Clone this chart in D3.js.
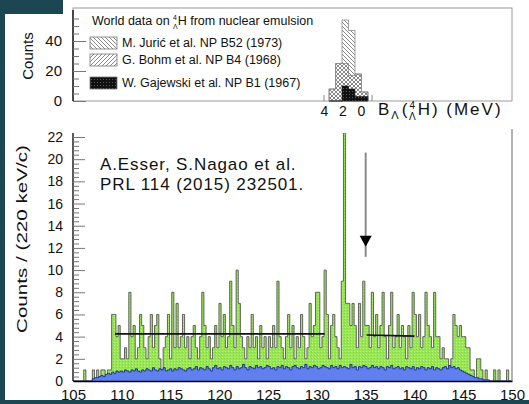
<!DOCTYPE html>
<html><head><meta charset="utf-8">
<script src="https://cdn.jsdelivr.net/npm/d3@7"></script>
<style>
html,body{margin:0;padding:0;background:#1b4652;}
svg{display:block;}
text{font-family:"Liberation Sans",Arial,sans-serif;}
</style></head><body>
<svg id="c" width="529" height="404"></svg>
<script>
// ---------------- DATA ----------------
const binStart = 105, binWidth = 0.22;
const greenCounts = [0,0,0,0,0,1,0,0,0,1, 0,1,0,1,1,0,1,1,6,6, 4,5,2,2,3,2,8,4,5,2,
 3,6,5,3,2,4,6,3,5,6, 2,1,3,4,6,2,8,3,7,3, 4,6,3,4,2,4,5,3,2,4, 8,5,3,4,2,3,5,3,7,4,
 6,3,4,9,5,3,10,7,4,3, 2,4,3,6,3,4,2,5,3,4, 2,4,3,5,3,9,4,3,2,4, 6,3,5,2,4,3,6,4,2,3,
 7,4,5,8,8,3,4,10,6,2, 5,6,4,3,2,9,23,7,7,5, 7,5,3,7,4,9,5,5,3,8, 4,6,3,5,8,4,2,5,8,3,
 4,6,3,5,4,2,5,3,8,6, 4,6,3,4,8,5,4,3,8,4, 4,2,3,2,2,1,2,6,5,4, 5,4,4,3,3,1,1,0,2,2,
 1,0,1,0,0,0,1,0,1,0, 0,0,1,0,0];
const blueCounts = [0,0,0,0,0,0,0,0,0,0.2, 0.3,0.3,0.4,0.5,0.4,0.6,0.7,0.6,0.8,0.7,
 0.9,0.8,0.9,0.8,1.0,0.9,0.8,1.0,0.9,1.1, 0.9,0.8,1.0,0.9,1.1,1.0,0.9,1.2,1.0,0.9,
 1.1,1.0,1.2,0.9,1.0,1.1,0.9,1.1,1.0,1.2, 1.1,1.0,0.9,1.1,1.2,1.0,1.1,1.3,1.0,1.2,
 1.1,1.0,1.3,1.1,0.9,1.2,1.4,1.1,1.2,1.0, 1.3,1.2,1.1,1.4,1.2,1.0,1.3,1.1,1.2,1.5,
 1.2,1.0,1.3,1.2,1.1,1.4,1.2,1.3,1.1,1.2, 1.4,1.3,1.1,1.2,1.0,1.3,1.2,1.4,1.1,1.3,
 1.2,1.0,1.3,1.4,1.2,1.1,1.3,1.2,1.5,1.1, 1.3,1.2,1.4,1.3,1.1,1.2,1.4,1.3,1.2,1.1,
 1.4,1.2,1.3,1.1,1.4,1.2,1.3,1.2,1.1,1.5, 1.2,1.3,1.0,1.3,1.2,1.4,1.3,1.1,1.2,1.4,
 1.2,1.3,1.1,1.3,1.2,1.0,1.3,1.2,1.4,1.1, 1.2,1.3,1.1,1.2,1.0,1.3,1.2,1.1,1.3,1.0,
 1.2,1.1,1.3,1.2,1.0,1.2,1.1,1.3,1.0,1.2, 1.1,1.0,1.2,1.3,1.1,1.4,1.2,1.3,1.1,1.2,
 1.0,0.9,0.8,0.7,0.6,0.5,0.4,0.3,0.3,0.2, 0.2,0.1,0.1,0.1,0,0,0,0,0,0, 0,0,0,0,0];
const xTickValues = [105,110,115,120,125,130,135,140,145,150];
const yTickValues = [0,2,4,6,8,10,12,14,16,18,20,22];
const fitA_x = [109.3, 130.8], fitA_y = [4.25, 4.25];
const fitB_x = [135.1, 140.0], fitB_y = [4.15, 4.05];
const arrowAt = 135, arrowFrom = 20.6, arrowTo = 12.1;
const yLabel = "Counts / (220 keV/c)";
const noteLines = ["A.Esser, S.Nagao et al.", "PRL 114 (2015) 232501."];

// inset (world emulsion data)
const insetEdges = [3.45, 2.75, 2.05, 1.35, 0.65, -0.05, -0.75];
const juricCounts = [8, 25, 54, 47, 18, 6];
const bohmCounts  = [8, 25, 25, 17, 18, 6];
const gajewskiCounts = [0, 0, 10, 8, 3, 3];
const insetYTicks = [0, 20, 40];
const insetXTicks = [4, 2, 0];
const legendNames = ["M. Jurić et al. NP B52 (1973)", "G. Bohm et al. NP B4 (1968)", "W. Gajewski et al. NP B1 (1967)"];

// ---------------- DRAW ----------------
const svg = d3.select("#c");
const defs = svg.append("defs");
function pat(id, w, h, bg, draw){
  const p = defs.append("pattern").attr("id", id).attr("patternUnits","userSpaceOnUse").attr("width", w).attr("height", h);
  if (bg) p.append("rect").attr("width", w).attr("height", h).attr("fill", bg);
  draw(p);
}
pat("hBack", 4, 4, null, p => p.append("path").attr("d","M-1,-1L5,5M-1,3L1,5M3,-1L5,1").attr("stroke","#6a6a6a").attr("stroke-width",0.8));
pat("hFwd", 4, 4, null, p => p.append("path").attr("d","M-1,5L5,-1M-1,1L1,-1M3,5L5,3").attr("stroke","#6a6a6a").attr("stroke-width",0.8));
pat("hBlack", 3, 3, "#111", p => p.append("rect").attr("x",1).attr("y",1).attr("width",1).attr("height",1).attr("fill","#555"));
pat("gFill", 3, 3, "#98e654", p => { p.append("rect").attr("x",0).attr("y",0).attr("width",1).attr("height",1).attr("fill","#bcf284");
  p.append("rect").attr("x",2).attr("y",1).attr("width",1).attr("height",1).attr("fill","#84d444"); });

// page background / white panel
svg.append("rect").attr("width",529).attr("height",404).attr("fill","#1b4652");
svg.append("rect").attr("x",5).attr("y",14).attr("width",524).attr("height",386).attr("fill","#fff");
svg.append("rect").attr("x",63).attr("y",0).attr("width",466).attr("height",14).attr("fill","#fff");

// ---- main plot ----
const x = d3.scaleLinear().domain([105,150]).range([73,512]);
const y = d3.scaleLinear().domain([0,22]).range([381,137]);
const yTop = 133;

defs.append("clipPath").attr("id","mainClip").append("rect")
  .attr("x",73).attr("y",yTop).attr("width",512-73).attr("height",381-yTop);

function binData(vals){
  const d = vals.map((v,i)=>({x: binStart + i*binWidth, v}));
  d.push({x: binStart + vals.length*binWidth, v: vals[vals.length-1]});
  return d;
}
const gArea = d3.area().x(d=>x(d.x)).y0(y(0)).y1(d=>y(d.v)).curve(d3.curveStepAfter);
const gLine = d3.line().x(d=>x(d.x)).y(d=>y(d.v)).curve(d3.curveStepAfter);
const plot = svg.append("g").attr("clip-path","url(#mainClip)");
const gd = binData(greenCounts), bd = binData(blueCounts);
plot.append("path").attr("d", gArea(gd)).attr("fill","url(#gFill)");
plot.append("path").attr("d", gLine(gd)).attr("fill","none").attr("stroke","#555").attr("stroke-width",0.9);
plot.append("path").attr("d", gArea(bd)).attr("fill","#5f80ee");
plot.append("path").attr("d", gLine(bd)).attr("fill","none").attr("stroke","#1b2a8c").attr("stroke-width",0.9);

// fit lines
const fl = d3.line().x(d=>x(d[0])).y(d=>y(d[1]));
svg.append("path").attr("d", fl(d3.zip(fitA_x, fitA_y))).attr("stroke","#111").attr("stroke-width",1.6).attr("fill","none");
svg.append("path").attr("d", fl(d3.zip(fitB_x, fitB_y))).attr("stroke","#111").attr("stroke-width",1.6).attr("fill","none");

// arrow
svg.append("line").attr("x1",x(arrowAt)).attr("x2",x(arrowAt)).attr("y1",y(arrowFrom)).attr("y2",y(arrowTo)+10)
  .attr("stroke","#8a8a8a").attr("stroke-width",2);
svg.append("path").attr("d",`M${x(arrowAt)-6},${y(arrowTo)-11}L${x(arrowAt)+6},${y(arrowTo)-11}L${x(arrowAt)},${y(arrowTo)}Z`).attr("fill","#000");

// frame
svg.append("line").attr("x1",512).attr("x2",512).attr("y1",129).attr("y2",381).attr("stroke","#9a9a9a").attr("stroke-width",1.5);

// axes
const yAx = svg.append("g").attr("transform","translate(73,0)")
  .call(d3.axisLeft(y).tickValues(yTickValues).tickSize(-12).tickPadding(10).tickFormat(d3.format("d")));
const minorY = d3.range(0, 22.4, 0.4).filter(v => Math.abs(v/2 - Math.round(v/2)) > 0.01);
svg.append("g").attr("transform","translate(73,0)")
  .call(d3.axisLeft(y).tickValues(minorY).tickSize(-6).tickFormat(""))
  .call(g=>g.select(".domain").remove());
yAx.select(".domain").attr("d", `M0,${yTop}V381`).attr("stroke","#000").attr("stroke-width",1.3);
yAx.selectAll("text").attr("font-size",14).attr("fill","#111");

const xAx = svg.append("g").attr("transform","translate(0,381)")
  .call(d3.axisBottom(x).tickValues(xTickValues).tickSize(0).tickPadding(8).tickFormat(d3.format("d")));
xAx.select(".domain").attr("stroke","#000").attr("stroke-width",1.3);
xAx.selectAll("text").attr("font-size",15).attr("fill","#111");

svg.append("text").attr("transform","translate(27,333) rotate(-90)").attr("text-anchor","start")
  .attr("font-size",15.5).attr("fill","#111").attr("textLength",188).attr("lengthAdjust","spacingAndGlyphs").text(yLabel);

noteLines.forEach((t,i)=> svg.append("text").attr("x",100).attr("y",170+20*i)
  .attr("font-family","'DejaVu Sans',sans-serif").attr("font-size",17).attr("letter-spacing",0.9).attr("fill","#111").text(t));

// ---- inset ----
const xi = d3.scaleLinear().domain([4,0]).range([324,361]);
const yi = d3.scaleLinear().domain([0,40]).range([101,41]);
svg.append("rect").attr("x",73).attr("y",8).attr("width",439).attr("height",93)
  .attr("fill","#fff").attr("stroke","#9a9a9a").attr("stroke-width",1);

function insetPath(vals){
  let s = `M${xi(insetEdges[0])},${yi(0)}`;
  vals.forEach((v,i)=>{ s += `L${xi(insetEdges[i])},${yi(v)}L${xi(insetEdges[i+1])},${yi(v)}`; });
  return s + `L${xi(insetEdges[insetEdges.length-1])},${yi(0)}Z`;
}
svg.append("path").attr("d", insetPath(juricCounts)).attr("fill","url(#hBack)").attr("stroke","#8a8a8a").attr("stroke-width",0.8);
svg.append("path").attr("d", insetPath(bohmCounts)).attr("fill","url(#hFwd)").attr("stroke","#8a8a8a").attr("stroke-width",0.8);
svg.append("path").attr("d", insetPath(gajewskiCounts)).attr("fill","url(#hBlack)").attr("stroke","#222").attr("stroke-width",0.6);

const yiAx = svg.append("g").attr("transform","translate(73,0)")
  .call(d3.axisLeft(yi).tickValues(insetYTicks).tickSize(-13).tickPadding(11));
svg.append("g").attr("transform","translate(73,0)")
  .call(d3.axisLeft(yi).tickValues([5,10,15,25,30,35,45,50,55]).tickSize(-6).tickFormat(""))
  .call(g=>g.select(".domain").remove());
yiAx.select(".domain").attr("d","M0,10V101").attr("stroke","#000").attr("stroke-width",1.3);
yiAx.selectAll("text").attr("font-size",15).attr("fill","#111");
svg.selectAll(".tick line").attr("stroke","#777");
svg.append("text").attr("transform","translate(33,56) rotate(-90)").attr("text-anchor","middle")
  .attr("font-size",15).attr("fill","#111").text("Counts");

const xiAx = svg.append("g").attr("transform","translate(0,101)")
  .call(d3.axisBottom(xi).tickValues(insetXTicks).tickSize(0).tickPadding(5).tickFormat(d3.format("d")));
xiAx.select(".domain").remove();
xiAx.selectAll("text").attr("font-size",14).attr("fill","#111");
svg.append("line").attr("x1",xi(4)).attr("x2",xi(4)).attr("y1",95).attr("y2",101).attr("stroke","#888");
svg.append("line").attr("x1",372).attr("x2",372).attr("y1",95).attr("y2",101).attr("stroke","#888");

const bl = svg.append("text").attr("x",378).attr("y",115).attr("font-size",17).attr("letter-spacing",2).attr("fill","#111");
bl.append("tspan").text("B");
bl.append("tspan").attr("font-size",11).attr("dy",4).text("Λ");
bl.append("tspan").attr("dx",1).attr("dy",-4).text("(");
bl.append("tspan").attr("font-size",10).attr("dy",-6).text("4");
bl.append("tspan").attr("font-size",10).attr("dx",-8).attr("dy",11).text("Λ");
bl.append("tspan").attr("dy",-5).text("H) (MeV)");

// legend
const tt = svg.append("text").attr("x",92).attr("y",25).attr("font-size",12.5).attr("fill","#111");
tt.append("tspan").text("World data on ");
tt.append("tspan").attr("font-size",7).attr("dy",-5).text("4");
tt.append("tspan").attr("font-size",7).attr("dx",-4).attr("dy",9).text("Λ");
tt.append("tspan").attr("dy",-4).text("H from nuclear emulsion");
const legFills = ["url(#hBack)","url(#hFwd)","url(#hBlack)"];
const legY = [37, 54, 77];
legendNames.forEach((n,i)=>{
  svg.append("rect").attr("x",90).attr("y",legY[i]).attr("width",27).attr("height",12)
    .attr("fill",legFills[i]).attr("stroke","#777").attr("stroke-width",0.8);
  svg.append("text").attr("x",122).attr("y",legY[i]+10).attr("font-size",12.5).attr("fill","#111").text(n);
});
</script></body></html>
